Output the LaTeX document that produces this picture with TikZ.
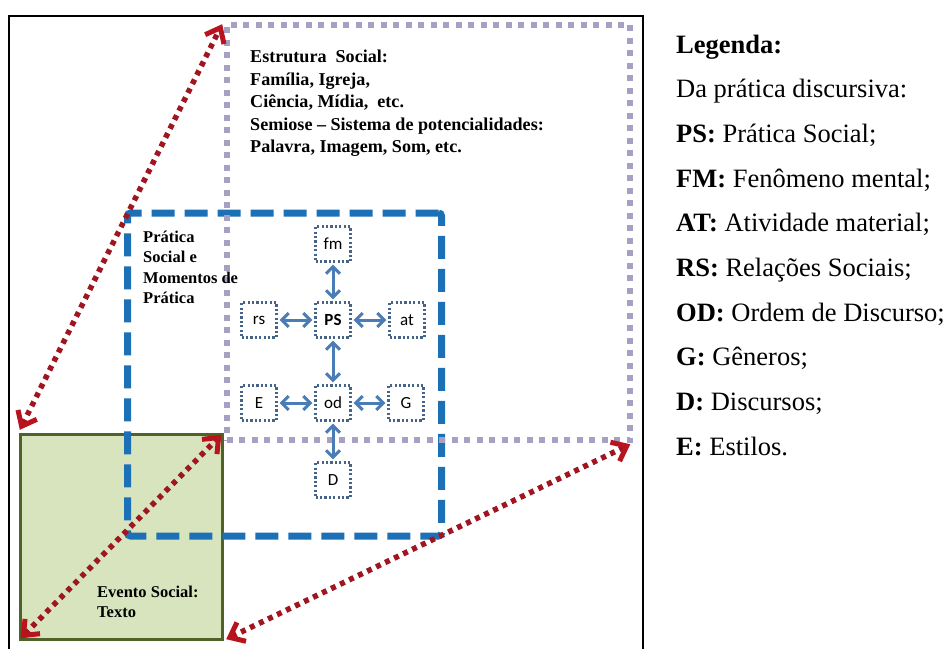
\documentclass[tikz,border=0pt]{standalone}
\usepackage{fontspec}
\setmainfont{Liberation Serif}
\newfontfamily\calib{Carlito}
\usetikzlibrary{arrows.meta}
\definecolor{lav}{RGB}{166,160,194}
\definecolor{bluedash}{RGB}{28,112,182}
\definecolor{boxline}{RGB}{70,100,135}
\definecolor{arrblue}{RGB}{74,124,182}
\definecolor{darkred1}{RGB}{160,22,32}
\definecolor{redtip}{RGB}{185,20,30}
\definecolor{greenfill}{RGB}{215,228,189}
\definecolor{greenline}{RGB}{79,98,40}
\begin{document}
\begin{tikzpicture}[x=1pt,y=-1pt,
  smallbox/.style={draw=boxline, line width=2.2pt, dash pattern=on 2.2pt off 2.2pt,
    minimum width=35pt, minimum height=35pt, inner sep=0pt,
    font=\calib\fontsize{17}{20}\selectfont},
  bluearrow/.style={draw=arrblue, line width=3pt,
    {Straight Barb[length=7pt,width=14pt]}-{Straight Barb[length=7pt,width=14pt]},
    shorten >=2pt, shorten <=2pt},
  redarrow/.style={draw=darkred1, line width=5.5pt, dash pattern=on 5pt off 5pt,
    {Straight Barb[length=13pt,width=21pt,line width=5pt,color=redtip]}-{Straight Barb[length=13pt,width=21pt,line width=5pt,color=redtip]},
    shorten >=3pt, shorten <=3pt},
  legend/.style={anchor=base west, inner sep=0pt, font=\fontsize{26.5}{30}\selectfont},
  boxtext/.style={anchor=north west, align=left, inner sep=0pt},
]
\useasboundingbox (0,0) rectangle (944,648);
\fill[white] (0,0) rectangle (944,648);
% outer frame
\draw[line width=2.2pt] (9,16) rectangle (643,700);
% green event box
\node (ev) [draw=greenline, fill=greenfill, line width=3pt, minimum width=202pt,
  minimum height=205pt, inner sep=0pt] at (121,536.5) {};
% blue dashed practice box
\node (pr) [draw=bluedash, line width=7pt, dash pattern=on 23pt off 10pt,
  rounded corners=3pt, minimum width=314pt, minimum height=323pt, inner sep=0pt]
  at (284.5,374.5) {};
% lavender dotted structure box
\node (es) [draw=lav, line width=6pt, dash pattern=on 6pt off 6.5pt,
  minimum width=403.5pt, minimum height=415.5pt, inner sep=0pt]
  at (428.25,232.25) {};
% texts
\node (estxt) [boxtext, font=\bfseries\fontsize{18.1}{22.5}\selectfont] at (250,50)
  {Estrutura~ Social:\\Família, Igreja,\\Ciência, Mídia,~ etc.\\Semiose – Sistema de potencialidades:\\Palavra, Imagem, Som, etc.};
\node (prtxt) [boxtext, font=\bfseries\fontsize{16.5}{20.3}\selectfont] at (143,231)
  {Prática\\Social e\\Momentos de\\Prática};
\node (evtxt) [boxtext, font=\bfseries\fontsize{16.5}{20.3}\selectfont] at (97,586)
  {Evento Social:\\Texto};
% small boxes
\node (fm) [smallbox] at (333,244) {fm};
\node (rs) [smallbox] at (259,320) {rs};
\node (PS) [smallbox] at (333,320) {\bfseries PS};
\node (at) [smallbox] at (407,320) {at};
\node (E)  [smallbox] at (259,403) {E};
\node (od) [smallbox] at (333,403) {od};
\node (G)  [smallbox] at (406,403) {G};
\node (D)  [smallbox] at (333,480) {D};
\draw[bluearrow] (fm) -- (PS);
\draw[bluearrow] (rs) -- (PS);
\draw[bluearrow] (PS) -- (at);
\draw[bluearrow] (PS) -- (od);
\draw[bluearrow] (E) -- (od);
\draw[bluearrow] (od) -- (G);
\draw[bluearrow] (od) -- (D);
% red arrows
\draw[redarrow] (ev.north west) -- (es.north west);
\draw[redarrow] (ev.south west) -- (ev.north east);
\draw[redarrow] (ev.south east) -- (es.south east);
% legend
\node (l0) [legend] at (676,53) {\bfseries Legenda:};
\node (l1) [legend] at (676,97.7) {Da prática discursiva:};
\node (l2) [legend] at (676,142.4) {\textbf{PS:} Prática Social;};
\node (l3) [legend] at (676,187.1) {\textbf{FM:} Fenômeno mental;};
\node (l4) [legend] at (676,231.8) {\textbf{AT:} Atividade material;};
\node (l5) [legend] at (676,276.5) {\textbf{RS:} Relações Sociais;};
\node (l6) [legend] at (676,321.2) {\textbf{OD:} Ordem de Discurso;};
\node (l7) [legend] at (676,365.9) {\textbf{G:} Gêneros;};
\node (l8) [legend] at (676,410.6) {\textbf{D:} Discursos;};
\node (l9) [legend] at (676,455.3) {\textbf{E:} Estilos.};
\end{tikzpicture}
\end{document}
